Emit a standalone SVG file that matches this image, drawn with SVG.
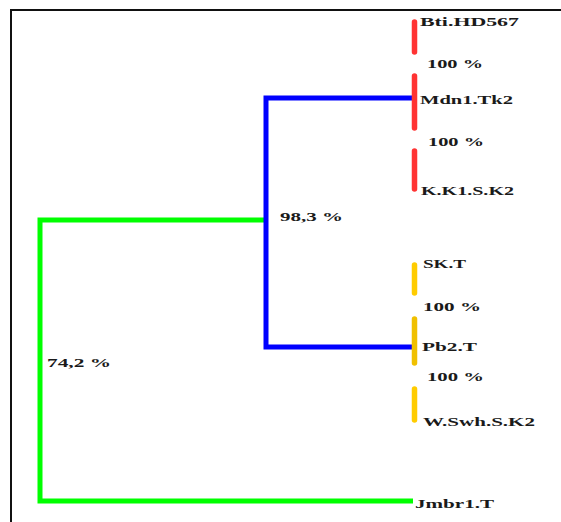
<svg xmlns="http://www.w3.org/2000/svg" width="561" height="522" viewBox="0 0 561 522">
<style>
.t{font-family:"Liberation Serif","Times New Roman",serif;font-size:12.5px;font-weight:bold;fill:#1a1a1a}
.g{stroke:#00ff00;stroke-width:5;fill:none;stroke-linejoin:miter}
.b{stroke:#0000ff;stroke-width:5;fill:none;stroke-linejoin:miter}
.r{stroke:#ff3333;stroke-width:5.5;stroke-linecap:round}
.y{stroke:#ffcc00;stroke-width:5.5;stroke-linecap:round}
.frame{stroke:#111;stroke-width:2;fill:none}
</style>
<rect width="561" height="522" fill="#fff"/>
<path class="frame" d="M11,522 V10 H561"/>
<g id="connectors">
<path class="g" d="M413,501 H40 V220 H266"/>
<path class="b" d="M413,98 H266 V347 H413"/>
</g>
<g id="red-bars">
<line class="r" x1="414.5" y1="22" x2="414.5" y2="52"/>
<line class="r" x1="414.5" y1="76" x2="414.5" y2="128"/>
<line class="r" x1="414.5" y1="151" x2="414.5" y2="189"/>
</g>
<g id="yellow-bars">
<line class="y" x1="414.5" y1="265" x2="414.5" y2="293"/>
<line class="y" x1="414.5" y1="319" x2="414.5" y2="363" style="stroke:#f0c000"/>
<line class="y" x1="414.5" y1="389" x2="414.5" y2="420"/>
</g>
<g id="n-bti"><text class="t" x="420" y="26" textLength="99" lengthAdjust="spacingAndGlyphs">Bti.HD567</text></g>
<g id="l-100a"><text class="t" x="427" y="68" textLength="56" lengthAdjust="spacingAndGlyphs">100 %</text></g>
<g id="n-mdn"><text class="t" x="420" y="104" textLength="93" lengthAdjust="spacingAndGlyphs">Mdn1.Tk2</text></g>
<g id="l-100b"><text class="t" x="428" y="146" textLength="56" lengthAdjust="spacingAndGlyphs">100 %</text></g>
<g id="n-kk1"><text class="t" x="421" y="195" textLength="93" lengthAdjust="spacingAndGlyphs">K.K1.S.K2</text></g>
<g id="l-983"><text class="t" x="280" y="221" textLength="63" lengthAdjust="spacingAndGlyphs">98,3 %</text></g>
<g id="n-sk"><text class="t" x="423" y="268" textLength="43" lengthAdjust="spacingAndGlyphs">SK.T</text></g>
<g id="l-100c"><text class="t" x="423" y="311" textLength="58" lengthAdjust="spacingAndGlyphs">100 %</text></g>
<g id="n-pb2"><text class="t" x="422" y="351" textLength="55" lengthAdjust="spacingAndGlyphs">Pb2.T</text></g>
<g id="l-100d"><text class="t" x="427" y="381" textLength="57" lengthAdjust="spacingAndGlyphs">100 %</text></g>
<g id="n-wswh"><text class="t" x="423" y="426" textLength="112" lengthAdjust="spacingAndGlyphs">W.Swh.S.K2</text></g>
<g id="l-742"><text class="t" x="47" y="367" textLength="64" lengthAdjust="spacingAndGlyphs">74,2 %</text></g>
<g id="n-jmbr"><text class="t" x="415" y="508" textLength="79" lengthAdjust="spacingAndGlyphs">Jmbr1.T</text></g>
</svg>
